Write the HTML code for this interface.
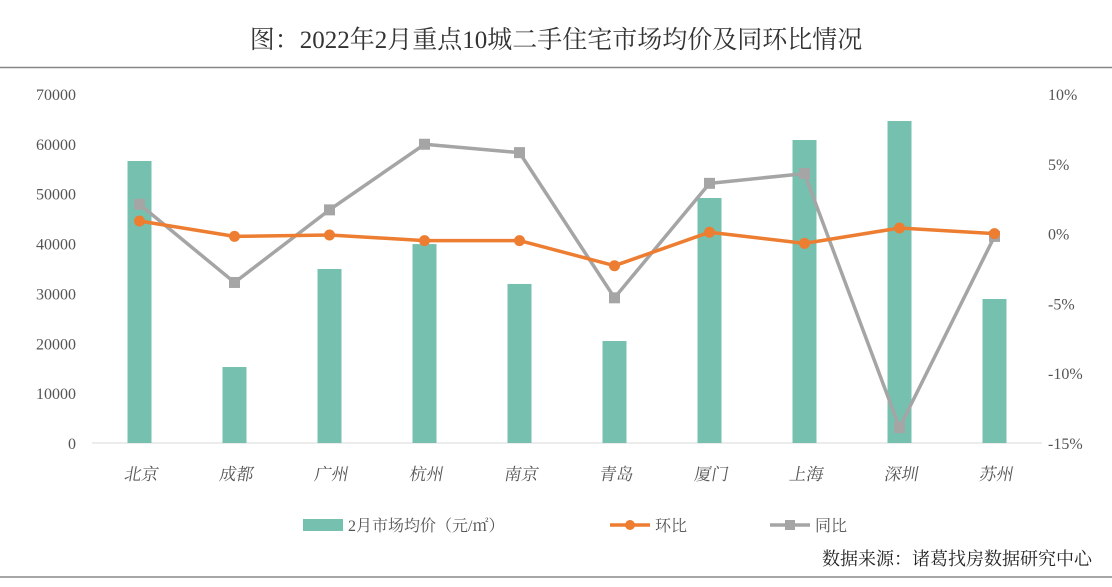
<!DOCTYPE html>
<html><head><meta charset="utf-8"><style>
body{margin:0;background:#fff;}
svg text{font-family:"Liberation Serif","Noto Serif CJK SC",serif;}
</style></head><body>
<svg width="1112" height="582" xmlns="http://www.w3.org/2000/svg">
<rect x="0" y="0" width="1112" height="582" fill="#fff"/>
<text x="556" y="48" text-anchor="middle" font-size="25" fill="#333">图：2022年2月重点10城二手住宅市场均价及同环比情况</text>
<line x1="0" y1="67.5" x2="1112" y2="67.5" stroke="#888" stroke-width="1.5"/>
<line x1="0" y1="577" x2="1112" y2="577" stroke="#888" stroke-width="1.5"/>
<g id="yl"></g>
<g id="yr"></g>
<line x1="92" y1="443" x2="1042" y2="443" stroke="#d9d9d9"/>
<g id="bars"></g>
<g id="lines"></g>
<g id="xl"></g>
<g>
<g><rect x="303" y="519" width="40" height="12" fill="#76c0af"/><text x="348" y="531" font-size="16" fill="#555">2月市场均价（元/㎡）</text></g>
<g><line x1="610" y1="525" x2="650" y2="525" stroke="#ed7d31" stroke-width="3.5"/><circle cx="630" cy="525" r="5" fill="#ed7d31"/><text x="655" y="531" font-size="16" fill="#555">环比</text></g>
<g><line x1="770" y1="525" x2="810" y2="525" stroke="#a5a5a5" stroke-width="3.5"/><rect x="785" y="520" width="10" height="10" fill="#a5a5a5"/><text x="815" y="531" font-size="16" fill="#555">同比</text></g>
</g>
<text x="1092" y="565" text-anchor="end" font-size="18" fill="#222">数据来源：诸葛找房数据研究中心</text>
</svg>
<script>
const cities=["北京","成都","广州","杭州","南京","青岛","厦门","上海","深圳","苏州"];
const prices=[56560,15240,34900,39900,31900,20460,49140,60770,64580,28880];
const mom=[0.9,-0.2,-0.1,-0.5,-0.5,-2.3,0.1,-0.7,0.4,0.0];
const yoy=[2.1,-3.5,1.7,6.4,5.8,-4.6,3.6,4.3,-13.9,-0.2];
const leftTicks=[0,10000,20000,30000,40000,50000,60000,70000];
const rightTicks=[-15,-10,-5,0,5,10];
const NS="http://www.w3.org/2000/svg";
const x0=92,x1=1042,yTop=94,yBot=443;
const xc=i=>x0+(x1-x0)/cities.length*(i+0.5);
const yl=v=>yBot-(v/70000)*(yBot-yTop);
const yr=v=>yBot-((v+15)/25)*(yBot-yTop);
function mk(tag,attrs,parent,text){const e=document.createElementNS(NS,tag);for(const k in attrs)e.setAttribute(k,attrs[k]);if(text!==undefined)e.textContent=text;document.getElementById(parent).appendChild(e);return e;}
leftTicks.forEach(t=>{const e=mk('text',{x:76,y:yl(t)+6,'text-anchor':'end','font-size':16,fill:'#555'},'yl',String(t));

});
rightTicks.forEach(t=>{const e=mk('text',{x:1048,y:yr(t)+6,'font-size':16,fill:'#555'},'yr',t+'%');

});
cities.forEach((c,i)=>{
const b=mk('rect',{x:xc(i)-12,y:yl(prices[i]),width:24,height:yBot-yl(prices[i]),fill:'#76c0af'},'bars');


const t=mk('text',{x:xc(i)+2,y:480,'text-anchor':'middle','font-size':17,fill:'#555',transform:'skewX(-10)','transform-origin':xc(i)+' 475'},'xl',c);


});
function series(vals,color,shape,name){
const pts=vals.map((v,i)=>xc(i)+','+yr(v)).join(' ');
const pl=mk('polyline',{points:pts,fill:'none',stroke:color,'stroke-width':3.5,'stroke-linejoin':'round'},'lines');


vals.forEach((v,i)=>{let m;
if(shape==='c')m=mk('circle',{cx:xc(i),cy:yr(v),r:5.5,fill:color},'lines');
else m=mk('rect',{x:xc(i)-5.5,y:yr(v)-5.5,width:11,height:11,fill:color},'lines');

});
}
series(yoy,'#a5a5a5','s','yoy');
series(mom,'#ed7d31','c','mom');
</script>
</body></html>
